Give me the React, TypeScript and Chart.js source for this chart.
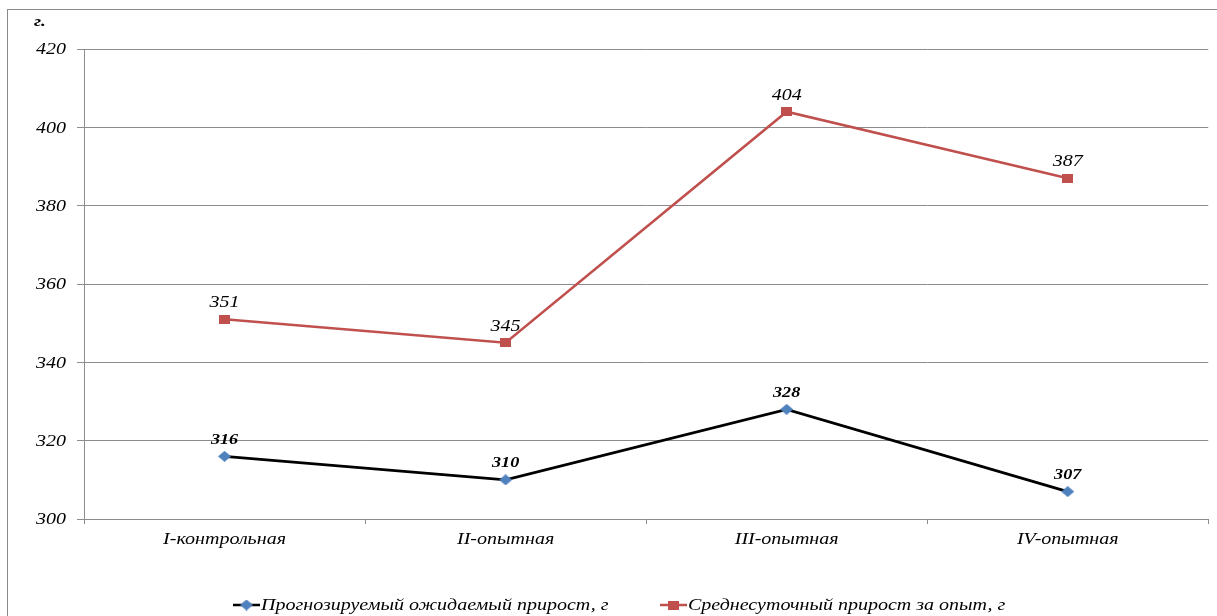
import React, { useEffect, useRef } from "react";
import { Chart, registerables } from "chart.js";

Chart.register(...registerables);

const groups = ["I-контрольная", "II-опытная", "III-опытная", "IV-опытная"];
const forecastGain = [316, 310, 328, 307];
const dailyGain = [351, 345, 404, 387];
const seriesNames = ["Прогнозируемый ожидаемый прирост, г", "Среднесуточный прирост за опыт, г"];
const yUnit = "г.";
const yTicks = [300, 320, 340, 360, 380, 400, 420];

const SERIF = "'Liberation Serif', 'Times New Roman', serif";
const BLUE = "#4F81BD";
const RED = "#C0504D";
const GRID = "#8C8C8C";
// the layout uses a horizontally widened type face
const STRETCH = 1.25;

function makeMarker(kind: "diamond" | "square", color: string): HTMLCanvasElement {
  const c = document.createElement("canvas");
  const w = kind === "diamond" ? 13 : 11;
  const h = kind === "diamond" ? 11 : 9;
  c.width = w;
  c.height = h;
  const g = c.getContext("2d")!;
  g.fillStyle = color;
  g.beginPath();
  if (kind === "diamond") {
    g.moveTo(w / 2, 0);
    g.lineTo(w, h / 2);
    g.lineTo(w / 2, h);
    g.lineTo(0, h / 2);
    g.closePath();
  } else {
    g.rect(0, 0, w, h);
  }
  g.fill();
  return c;
}

function drawText(
  ctx: CanvasRenderingContext2D,
  text: string,
  x: number,
  y: number,
  align: "left" | "center" | "right",
  font: string,
  stretch = STRETCH
) {
  ctx.save();
  ctx.font = font;
  ctx.textAlign = "left";
  ctx.textBaseline = "middle";
  ctx.fillStyle = "#000";
  const w = ctx.measureText(text).width * stretch;
  const left = align === "left" ? x : align === "center" ? x - w / 2 : x - w;
  ctx.translate(left, y);
  ctx.scale(stretch, 1);
  ctx.fillText(text, 0, 0);
  ctx.restore();
}

const diamond = makeMarker("diamond", BLUE);
const square = makeMarker("square", RED);

const decorPlugin = {
  id: "decor",
  beforeDraw(chart: any) {
    const ctx = chart.ctx as CanvasRenderingContext2D;
    ctx.save();
    ctx.fillStyle = "#ffffff";
    ctx.fillRect(0, 0, chart.width, chart.height);
    ctx.strokeStyle = "#8a8a8a";
    ctx.lineWidth = 1;
    ctx.strokeRect(7.5, 9.5, chart.width + 20, chart.height + 20);
    ctx.restore();
  },
  afterDraw(chart: any) {
    const ctx = chart.ctx as CanvasRenderingContext2D;
    const xs = chart.scales.x;
    const ys = chart.scales.y;

    // unit caption above the value axis
    drawText(ctx, yUnit, 34, 22, "left", `bold italic 15px ${SERIF}`, 1.3);

    // value axis labels
    yTicks.forEach((v) => {
      drawText(ctx, String(v), 66, ys.getPixelForValue(v) + 1, "right", `italic 16px ${SERIF}`);
    });

    // category labels
    groups.forEach((g, i) => {
      drawText(ctx, g, xs.getPixelForValue(i), 540, "center", `italic 16px ${SERIF}`);
    });

    // value labels over each point
    chart.data.datasets.forEach((ds: any, i: number) => {
      const meta = chart.getDatasetMeta(i);
      meta.data.forEach((pt: any, j: number) => {
        if (i === 0) {
          drawText(ctx, String(ds.data[j]), pt.x, pt.y - 16, "center", `bold italic 14px ${SERIF}`, 1.3);
        } else {
          drawText(ctx, String(ds.data[j]), pt.x, pt.y - 16, "center", `italic 16px ${SERIF}`);
        }
      });
    });

    // legend: line sample with marker, then the series name
    const items = [
      { x: 233, line: "#000000", marker: diamond, text: seriesNames[0] },
      { x: 660, line: RED, marker: square, text: seriesNames[1] },
    ];
    const ly = 605;
    items.forEach((it) => {
      ctx.save();
      ctx.strokeStyle = it.line;
      ctx.lineWidth = 2.5;
      ctx.beginPath();
      ctx.moveTo(it.x, ly);
      ctx.lineTo(it.x + 27, ly);
      ctx.stroke();
      ctx.drawImage(it.marker, it.x + 13.5 - it.marker.width / 2, ly - it.marker.height / 2);
      ctx.restore();
      drawText(ctx, it.text, it.x + 28, ly + 1, "left", `italic 16px ${SERIF}`);
    });
  },
};

export default function App() {
  const ref = useRef<HTMLCanvasElement | null>(null);

  useEffect(() => {
    if (!ref.current) return;
    const chart = new Chart(ref.current, {
      type: "line",
      data: {
        labels: groups,
        datasets: [
          {
            label: seriesNames[0],
            data: forecastGain,
            borderColor: "#000000",
            borderWidth: 2.75,
            pointStyle: diamond,
            pointRadius: 6,
            tension: 0,
          },
          {
            label: seriesNames[1],
            data: dailyGain,
            borderColor: RED,
            borderWidth: 2.5,
            pointStyle: square,
            pointRadius: 6,
            tension: 0,
          },
        ],
      },
      options: {
        animation: false,
        responsive: false,
        layout: { padding: { top: 49, right: 7, bottom: 0, left: 0 } },
        plugins: {
          legend: { display: false },
          tooltip: { enabled: false },
        },
        scales: {
          x: {
            offset: true,
            grid: {
              offset: true,
              drawOnChartArea: false,
              drawTicks: true,
              tickLength: 5,
              color: GRID,
            },
            border: { color: GRID, width: 1 },
            ticks: { display: false },
            afterFit(scale: any) {
              scale.height = 97;
            },
          },
          y: {
            min: 300,
            max: 420,
            afterBuildTicks(scale: any) {
              scale.ticks = yTicks.map((v) => ({ value: v }));
            },
            grid: {
              color: GRID,
              lineWidth: 1,
              drawTicks: true,
              tickLength: 7,
            },
            border: { color: GRID, width: 1 },
            ticks: { display: false },
            afterFit(scale: any) {
              scale.width = 84;
            },
          },
        },
      },
      plugins: [decorPlugin],
    });
    return () => chart.destroy();
  }, []);

  return (
    <div style={{ position: "fixed", left: 0, top: 0, width: 1217, height: 616, background: "#fff" }}>
      <canvas ref={ref} width={1217} height={616} style={{ display: "block" }} />
    </div>
  );
}
